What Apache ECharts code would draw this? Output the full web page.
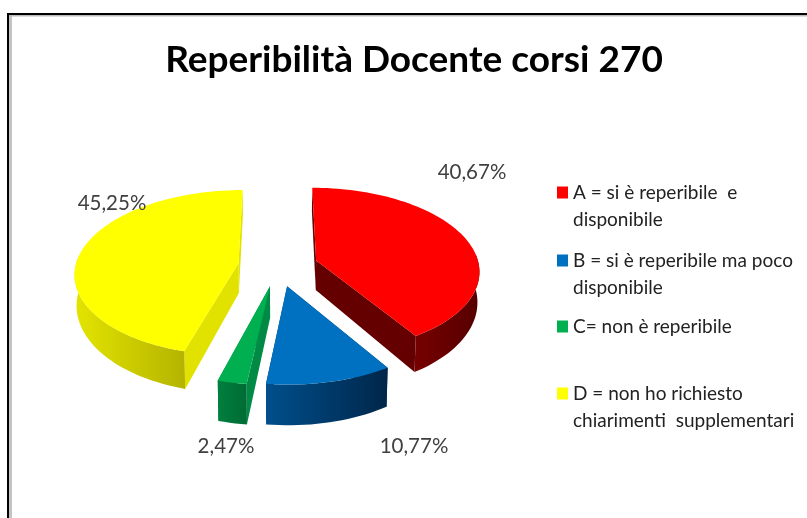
<!DOCTYPE html>
<html><head><meta charset="utf-8">
<style>html,body{margin:0;padding:0;background:#fff}#c{width:807px;height:518px}</style>
<script src="https://cdn.jsdelivr.net/npm/echarts@6/dist/echarts.min.js"></script>
</head><body><div id="c"></div>
<script>
const titleText = 'Reperibilità Docente corsi 270';
const categories = ['A = si è reperibile  e\ndisponibile','B = si è reperibile ma poco\ndisponibile','C= non è reperibile','D = non ho richiesto\nchiarimenti  supplementari'];
const values = [40.67, 10.77, 2.47, 45.25];
const valueLabels = ['40,67%','10,77%','2,47%','45,25%'];
const topColors = ['#ff0000','#0070c0','#00b050','#ffff00'];
const wallColors = [['#760000','#560000'],['#004f8c','#00264a'],['#007f3e','#006b34'],['#e4e400','#b4b400']];
const cutColors = ['#650000','#003f72','#008a45','#e2e200'];
const labelPos = [[472,172],[414,446],[226,446],[112,203]];
const legendTops = [152,220,313,353];
const seriesZ = [2,3,4,2];

const P = {cx:278, cy:266, R:163, tilt:0.504, persp:0.0007, depth:30, pinch:0.99, explode:40};
const total = values.reduce((a,b)=>a+b,0);
const starts = []; values.reduce((a,v,i)=>{starts[i]=a; return a+v;},0);

function project(u,v,z){
  const d = 1 - P.persp*v;
  const s = z ? P.pinch : 1;
  return [P.cx + s*u/d, P.cy + v*P.tilt/d + z/(d*d)];
}
function renderSlice(i){
  return function(params, api){
    const a0 = api.value(1)/total*360, a1 = (api.value(1)+api.value(0))/total*360;
    const rad = d=>d*Math.PI/180;
    const mid = rad((a0+a1)/2);
    const au = Math.sin(mid)*P.explode, av = -Math.cos(mid)*P.explode;
    const rim = (deg,z)=>project(au+P.R*Math.sin(rad(deg)), av-P.R*Math.cos(rad(deg)), z);
    const apex = z=>project(au,av,z);
    const angles = [];
    const n = Math.max(4, Math.ceil((a1-a0)/2));
    for(let k=0;k<=n;k++) angles.push(a0+(a1-a0)*k/n);
    const topPts = [apex(0)].concat(angles.map(d=>rim(d,0)));
    const vis = angles.filter(d=>d>=85&&d<=275);
    const wallPts = vis.map(d=>rim(d,0)).concat(vis.slice().reverse().map(d=>rim(d,P.depth)));
    const children = [];
    const poly = (pts,fill)=>({type:'polygon',shape:{points:pts},style:{fill:fill,stroke:null}});
    children.push(poly([apex(0),rim(a0,0),rim(a0,P.depth),apex(P.depth)],cutColors[i]));
    children.push(poly([apex(0),rim(a1,0),rim(a1,P.depth),apex(P.depth)],cutColors[i]));
    if(vis.length>1) children.push(poly(wallPts,new echarts.graphic.LinearGradient(0,0,1,0,[{offset:0,color:wallColors[i][0]},{offset:1,color:wallColors[i][1]}])));
    children.push(poly(topPts,topColors[i]));
    children.push({type:'text',style:{text:valueLabels[i],x:labelPos[i][0],y:labelPos[i][1],align:'center',verticalAlign:'middle',fill:'#404040',font:'20.5px Lato'}});
    return {type:'group',children:children};
  };
}
const chart = echarts.init(document.getElementById('c'),null,{renderer:'canvas'});
chart.setOption({
  animation:false,
  backgroundColor:'#ffffff',
  title:{text:titleText,left:409,top:37,textAlign:'center',textStyle:{fontFamily:'Lato',fontWeight:'bold',fontSize:37,color:'#000'}},
  graphic:[
    {type:'rect',shape:{x:9,y:15,width:3,height:510},style:{fill:'#c4c4c4'},silent:true},
    {type:'rect',shape:{x:9,y:15,width:800,height:1.5},style:{fill:'#bcbcbc'},silent:true},
    {type:'rect',shape:{x:7,y:13,width:2,height:510},style:{fill:'#000'},silent:true},
    {type:'rect',shape:{x:7,y:13,width:803,height:2},style:{fill:'#000'},silent:true}
  ],
  legend:categories.map((c,i)=>({
    data:[{name:c,icon:'rect',itemStyle:{color:topColors[i]}}],
    left:557, top:legendTops[i], orient:'vertical', selectedMode:false, padding:0,
    itemWidth:11,itemHeight:12,itemGap:0,
    formatter:n=>n.includes('\n')?'\n'+n:n,
    textStyle:{fontFamily:'Lato',fontSize:19,color:'#222',lineHeight:27}
  })),
  series:categories.map((c,i)=>({
    type:'custom',name:c,coordinateSystem:'none',z:seriesZ[i],
    itemStyle:{color:topColors[i]},
    renderItem:renderSlice(i),
    data:[[values[i],starts[i]]]
  }))
});
</script></body></html>
